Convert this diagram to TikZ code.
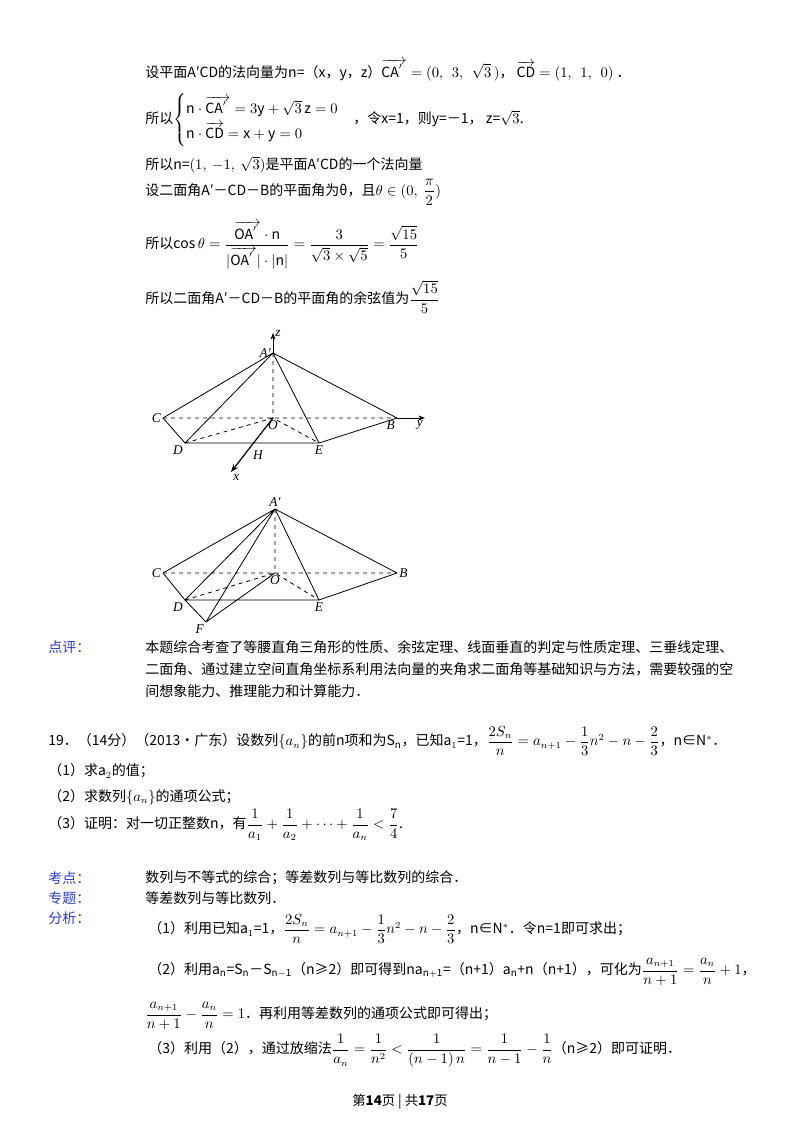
\documentclass[tikz,border=0pt]{standalone}
\usepackage{amsmath}
\usepackage{fontspec}
\setmainfont{Noto Sans CJK SC}
\newfontfamily\serifit{Liberation Serif}
\usetikzlibrary{arrows.meta}
\definecolor{lblue}{RGB}{40,60,220}
\begin{document}
\begin{tikzpicture}[x=0.75pt,y=-0.75pt,
  txt/.style={anchor=west,inner sep=0pt,font=\fontsize{10.5}{13}\selectfont},
  lab/.style={txt,text=lblue},
  pt/.style={font=\serifit\itshape\fontsize{10}{11}\selectfont,inner sep=1.5pt},
  edge/.style={line width=0.6pt},
  hid/.style={line width=0.6pt,dashed}]
\useasboundingbox[fill=white] (0,0) rectangle (800,1132);
% top text
\node[txt] (l1) at (145,70) {设平面A′CD的法向量为n=（x，y，z）$\overrightarrow{\mathrm{CA}'\;}=(0,\ \ 3,\ \ \sqrt3\,)$，\ $\overrightarrow{\mathrm{CD}}=(1,\ \ 1,\ \ 0)$\ ．};
\node[txt] (l2) at (145,120) {所以$\begin{cases}\mathrm{n}\cdot\overrightarrow{\mathrm{CA}'\;}=3\mathrm{y}+\sqrt3\,\mathrm{z}=0\\[2pt] \mathrm{n}\cdot\overrightarrow{\mathrm{CD}}=\mathrm{x}+\mathrm{y}=0\end{cases}$，令x=1，则y=－1，\ z=$\sqrt3$.};
\node[txt] (l3) at (145,165) {所以n=$(1,\ -1,\ \sqrt3)$是平面A′CD的一个法向量};
\node[txt] (l4) at (145,192) {设二面角A′－CD－B的平面角为θ，且$\theta\in(0,\ \dfrac{\pi}{2})$};
\node[txt] (l5) at (145,245) {所以$\cos\theta=\dfrac{\overrightarrow{\mathrm{OA}'\;}\cdot\mathrm{n}}{|\overrightarrow{\mathrm{OA}'\;}|\cdot|\mathrm{n}|}=\dfrac{3}{\sqrt3\times\sqrt5}=\dfrac{\sqrt{15}}{5}$};
\node[txt] (l6) at (145,297) {所以二面角A′－CD－B的平面角的余弦值为$\dfrac{\sqrt{15}}{5}$};
% figure 1
\coordinate (A) at (273,353); \coordinate (Z) at (273,333);
\coordinate (C) at (163,418); \coordinate (O) at (273,418);
\coordinate (B) at (397,418); \coordinate (Y) at (425,418);
\coordinate (D) at (185,443); \coordinate (E) at (319,443);
\coordinate (X) at (231,472);
\draw[edge] (A) -- (C) (A) -- (D) (A) -- (E) (A) -- (B) (C) -- (D) -- (E) -- (B);
\draw[hid] (A) -- (O) (C) -- (B) (D) -- (O) -- (E);
\draw[edge,-{Stealth[length=5pt]}] (B) -- (Y);
\draw[edge,-{Stealth[length=5pt]}] (A) -- (Z);
\draw[line width=0.9pt,-{Stealth[length=6pt]}] (O) -- (X);
\node[pt,left] at (A) {A′}; \node[pt,right] at (Z) {z};
\node[pt,left] at (C) {C}; \node[pt,below] at (O) {O};
\node[pt,below left] at (B) {B}; \node[pt,below left] at (Y) {y};
\node[pt,below left] at (D) {D}; \node[pt,below] at (E) {E};
\node[pt] at (258,455) {H}; \node[pt,below right] at (X) {x};
% figure 2
\coordinate (A2) at (275,509); \coordinate (C2) at (163,573);
\coordinate (O2) at (275,573); \coordinate (B2) at (397,573);
\coordinate (D2) at (185,600); \coordinate (E2) at (319,600);
\coordinate (F2) at (206,622);
\draw[edge] (A2) -- (C2) (A2) -- (D2) (A2) -- (F2) (A2) -- (E2) (A2) -- (B2)
  (C2) -- (D2) -- (F2) -- (O2) (D2) -- (E2) -- (B2);
\draw[hid] (A2) -- (O2) (C2) -- (B2) (D2) -- (O2) -- (E2);
\node[pt,above] at (A2) {A′}; \node[pt,left] at (C2) {C};
\node[pt,below] at (O2) {O}; \node[pt,right] at (B2) {B};
\node[pt,below left] at (D2) {D}; \node[pt,below] at (E2) {E};
\node[pt,below left] at (F2) {F};
% comment
\node[lab] (dp) at (48,647) {点评：};
\node[txt] at (145,647) {本题综合考查了等腰直角三角形的性质、余弦定理、线面垂直的判定与性质定理、三垂线定理、};
\node[txt] at (145,669) {二面角、通过建立空间直角坐标系利用法向量的夹角求二面角等基础知识与方法，需要较强的空};
\node[txt] at (145,691) {间想象能力、推理能力和计算能力．};
% problem 19
\node[txt] (p19) at (48,741) {19．（14分）（2013•广东）设数列$\{a_n\}$的前n项和为S$_\mathrm{n}$，已知a$_1$=1，$\dfrac{2S_n}{n}=a_{n+1}-\dfrac13n^2-n-\dfrac23$，n∈N$^*$．};
\node[txt] at (48,771) {（1）求a$_2$的值；};
\node[txt] at (48,797) {（2）求数列$\{a_n\}$的通项公式；};
\node[txt] at (48,825) {（3）证明：对一切正整数n，有$\dfrac{1}{a_1}+\dfrac{1}{a_2}+\cdots+\dfrac{1}{a_n}<\dfrac74$.};
\node[lab] at (48,878) {考点：};
\node[txt] at (145,878) {数列与不等式的综合；等差数列与等比数列的综合．};
\node[lab] at (48,898) {专题：};
\node[txt] at (145,898) {等差数列与等比数列．};
\node[lab] at (48,918) {分析：};
\node[txt] at (148,929) {（1）利用已知a$_1$=1，$\dfrac{2S_n}{n}=a_{n+1}-\dfrac13n^2-n-\dfrac23$，n∈N$^*$．令n=1即可求出；};
\node[txt] at (148,972) {（2）利用a$_\mathrm{n}$=S$_\mathrm{n}$－S$_{\mathrm{n-1}}$（n≥2）即可得到na$_{\mathrm{n+1}}$=（n+1）a$_\mathrm{n}$+n（n+1），可化为$\dfrac{a_{n+1}}{n+1}=\dfrac{a_n}{n}+1$，};
\node[txt] at (145,1016) {$\dfrac{a_{n+1}}{n+1}-\dfrac{a_n}{n}=1$．再利用等差数列的通项公式即可得出；};
\node[txt] at (148,1051) {（3）利用（2），通过放缩法$\dfrac{1}{a_n}=\dfrac{1}{n^2}<\dfrac{1}{(n-1)\,n}=\dfrac{1}{n-1}-\dfrac1n$（n≥2）即可证明．};
\node[font=\fontsize{10}{12}\selectfont] at (400,1102) {第\textbf{14}页 | 共\textbf{17}页};
\end{tikzpicture}
\end{document}
